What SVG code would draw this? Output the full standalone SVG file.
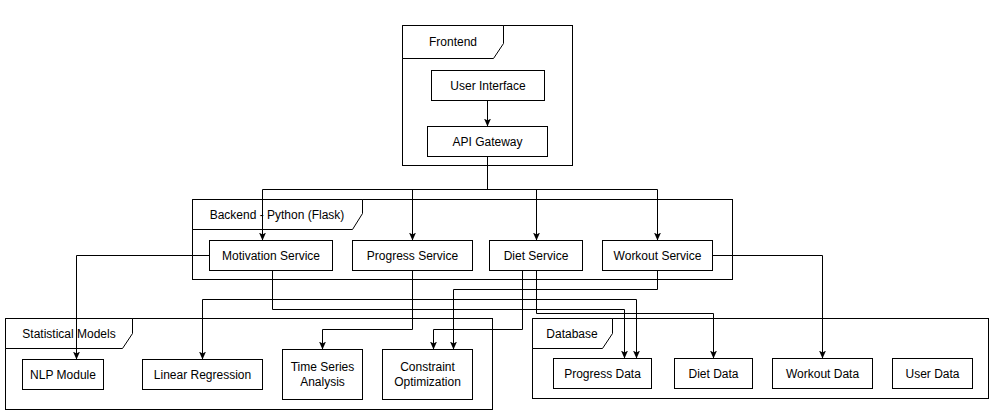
<svg xmlns="http://www.w3.org/2000/svg" width="998" height="415" viewBox="0 0 998 415">
<defs>
<marker id="arr" markerUnits="userSpaceOnUse" markerWidth="8" markerHeight="8" refX="8" refY="4" orient="auto">
<path d="M0,0.5 L8,4 L0,7.5 L2,4 Z" fill="#000"/>
</marker>
<style>
.frame{fill:none;stroke:#000;stroke-width:1}
.tab{fill:#fff;stroke:#000;stroke-width:1}
.box{fill:#fff;stroke:#000;stroke-width:1}
.t{font-family:"Liberation Sans",Arial,sans-serif;font-size:12px;fill:#000;text-anchor:middle}
.e{fill:none;stroke:#000;stroke-width:1;marker-end:url(#arr)}
</style>
</defs>
<rect width="998" height="415" fill="#fff"/>

<g id="frontend">
<rect class="frame" x="402.5" y="25.5" width="170" height="140"/>
<path class="tab" d="M402.5,25.5 H503.5 V43.5 L493.5,58.5 H402.5 Z"/>
<text class="t" x="453" y="46">Frontend</text>
</g>
<g id="backend">
<rect class="frame" x="192.5" y="199.5" width="540" height="80"/>
<path class="tab" d="M192.5,199.5 H362.5 V213.5 L352.5,229.5 H192.5 Z"/>
<text class="t" x="277" y="219">Backend - Python (Flask)</text>
</g>
<g id="statistical-models">
<rect class="frame" x="5.5" y="318.5" width="487" height="91"/>
<path class="tab" d="M5.5,318.5 H132.5 V333.5 L122.5,348.5 H5.5 Z"/>
<text class="t" x="69" y="338">Statistical Models</text>
</g>
<g id="database">
<rect class="frame" x="532.5" y="318.5" width="456" height="80"/>
<path class="tab" d="M532.5,318.5 H612.5 V333.5 L602.5,348.5 H532.5 Z"/>
<text class="t" x="572" y="338">Database</text>
</g>

<g id="connectors">
<path class="e" d="M487.5,100.5 V126.5"/>
<path class="e" d="M487.5,156.5 V189.5 H262.5 V240.5"/>
<path class="e" d="M487.5,156.5 V189.5 H412.5 V240.5"/>
<path class="e" d="M487.5,156.5 V189.5 H536.5 V240.5"/>
<path class="e" d="M487.5,156.5 V189.5 H657.5 V240.5"/>
<path class="e" d="M209.5,255.5 H76.5 V359.5"/>
<path class="e" d="M272.5,270.5 V309.5 H624.5 V358.5"/>
<path class="e" d="M412.5,270.5 V299.5 H202.5 V359.5"/>
<path class="e" d="M412.5,270.5 V299.5 H636.5 V358.5"/>
<path class="e" d="M412.5,270.5 V329.5 H322.5 V349.5"/>
<path class="e" d="M522.5,270.5 V329.5 H433.5 V349.5"/>
<path class="e" d="M536.5,270.5 V313.5 H713.5 V358.5"/>
<path class="e" d="M657.5,270.5 V289.5 H453.5 V349.5"/>
<path class="e" d="M712.5,255.5 H822.5 V358.5"/>
</g>

<g id="user-interface"><rect class="box" x="431.5" y="70.5" width="113" height="30"/><text class="t" x="488" y="90">User Interface</text></g>
<g id="api-gateway"><rect class="box" x="427.5" y="126.5" width="120" height="30"/><text class="t" x="487.5" y="146">API Gateway</text></g>
<g id="motivation-service"><rect class="box" x="209.5" y="240.5" width="123" height="30"/><text class="t" x="271" y="260">Motivation Service</text></g>
<g id="progress-service"><rect class="box" x="352.5" y="240.5" width="120" height="30"/><text class="t" x="412.5" y="260">Progress Service</text></g>
<g id="diet-service"><rect class="box" x="489.5" y="240.5" width="93" height="30"/><text class="t" x="536" y="260">Diet Service</text></g>
<g id="workout-service"><rect class="box" x="602.5" y="240.5" width="110" height="30"/><text class="t" x="657.5" y="260">Workout Service</text></g>
<g id="nlp-module"><rect class="box" x="22.5" y="359.5" width="81" height="30"/><text class="t" x="63" y="379">NLP Module</text></g>
<g id="linear-regression"><rect class="box" x="142.5" y="359.5" width="120" height="30"/><text class="t" x="202.5" y="379">Linear Regression</text></g>
<g id="time-series-analysis"><rect class="box" x="282.5" y="349.5" width="80" height="50"/><text class="t" x="322.5" y="371">Time Series</text><text class="t" x="322.5" y="386">Analysis</text></g>
<g id="constraint-optimization"><rect class="box" x="382.5" y="349.5" width="90" height="50"/><text class="t" x="427.5" y="371">Constraint</text><text class="t" x="427.5" y="386">Optimization</text></g>
<g id="progress-data"><rect class="box" x="553.5" y="358.5" width="98" height="30"/><text class="t" x="602.5" y="378">Progress Data</text></g>
<g id="diet-data"><rect class="box" x="674.5" y="358.5" width="78" height="30"/><text class="t" x="713.5" y="378">Diet Data</text></g>
<g id="workout-data"><rect class="box" x="772.5" y="358.5" width="100" height="30"/><text class="t" x="822.5" y="378">Workout Data</text></g>
<g id="user-data"><rect class="box" x="892.5" y="358.5" width="80" height="30"/><text class="t" x="932.5" y="378">User Data</text></g>
</svg>
